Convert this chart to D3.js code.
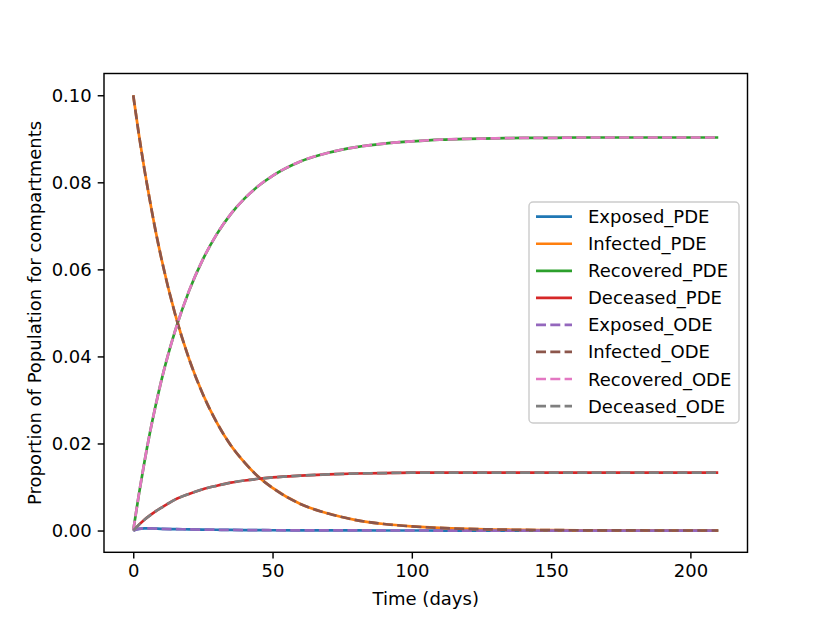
<!DOCTYPE html>
<html><head><meta charset="utf-8">
<script src="https://cdn.jsdelivr.net/npm/d3@7"></script>
<style>
body{margin:0;background:#fff;}
text{font-family:"DejaVu Sans",sans-serif;fill:#000;}
</style></head>
<body><svg id="c" width="830" height="622"></svg>
<script>
const days = [0,2,4,6,8,10,15,20,25,30,35,40,45,50,60,70,80,90,100,110,120,130,140,150,160,170,180,190,200,210];
const exposed = [0,0.0004,0.0005,0.0005,0.00045,0.0004,0.00033,0.00027,0.00022,0.00018,0.00014,0.00011,0.00009,0.00007,0.00004,0.00003,0.00002,0.00001,0.00001,0,0,0,0,0,0,0,0,0,0,0];
const infected = [0.1,0.0911,0.0830,0.0757,0.0689,0.0628,0.0498,0.0395,0.0313,0.0248,0.0196,0.0156,0.0123,0.0098,0.0061,0.0039,0.0024,0.0015,0.00096,0.0006,0.00038,0.00024,0.00015,0.00009,0.00006,0.00004,0.00002,0.00001,0.00001,0.00001];
const recovered = [0,0.0082,0.0157,0.0225,0.0286,0.0342,0.0458,0.0550,0.0623,0.0681,0.0727,0.0763,0.0792,0.0815,0.0848,0.0868,0.0881,0.0889,0.0894,0.0898,0.0900,0.0901,0.0902,0.0902,0.0903,0.0903,0.0903,0.0903,0.0903,0.0903];
const deceased = [0,0.0013,0.0025,0.0035,0.0044,0.0052,0.0071,0.0084,0.0095,0.0103,0.0110,0.0115,0.0119,0.0122,0.0126,0.0129,0.0131,0.0132,0.0133,0.0133,0.0133,0.0133,0.0133,0.0133,0.0133,0.0133,0.0133,0.0133,0.0133,0.0133];
const seriesNames = ["Exposed_PDE","Infected_PDE","Recovered_PDE","Deceased_PDE","Exposed_ODE","Infected_ODE","Recovered_ODE","Deceased_ODE"];
const seriesValues = [exposed,infected,recovered,deceased,exposed,infected,recovered,deceased];
const colors = ["#1f77b4","#ff7f0e","#2ca02c","#d62728","#9467bd","#8c564b","#e377c2","#7f7f7f"];
const xTicks = [0,50,100,150,200];
const yTicks = [0,0.02,0.04,0.06,0.08,0.10];

const svg = d3.select("#c");
const L=104, R=747.5, T=73.5, B=552.3;
const x = d3.scaleLinear().domain([-10.5,220.5]).range([L,R]);
const y = d3.scaleLinear().domain([-0.005,0.105]).range([B,T]);

const g = svg.append("g");
const clip = svg.append("clipPath").attr("id","cp").append("rect").attr("x",L).attr("y",T).attr("width",R-L).attr("height",B-T);

const line = d3.line().x(d=>x(d[0])).y(d=>y(d[1])).curve(d3.curveMonotoneX);
const plot = svg.append("g").attr("clip-path","url(#cp)");
seriesNames.forEach((n,i)=>{
  const pts = days.map((t,j)=>[t,seriesValues[i][j]]);
  plot.append("path").attr("d",line(pts)).attr("fill","none")
    .attr("stroke",colors[i]).attr("stroke-width",2.7)
    .attr("stroke-dasharray", i>=4 ? "10,4.3" : null);
});

// axes
const xa = svg.append("g").attr("transform",`translate(0,${B})`)
  .call(d3.axisBottom(x).tickValues(xTicks).tickFormat(d3.format("d")).tickSize(6.3).tickPadding(6));
const ya = svg.append("g").attr("transform",`translate(${L},0)`)
  .call(d3.axisLeft(y).tickValues(yTicks).tickFormat(d3.format(".2f")).tickSize(6.3).tickPadding(6));
[xa,ya].forEach(a=>{
  a.select(".domain").remove();
  a.selectAll("line").attr("stroke","#000").attr("stroke-width",1.44);
  a.selectAll("text").attr("font-size",18).attr("font-family","DejaVu Sans").attr("fill","#000");
});
svg.append("rect").attr("x",L).attr("y",T).attr("width",R-L).attr("height",B-T)
  .attr("fill","none").attr("stroke","#000").attr("stroke-width",1.44);

svg.append("text").attr("x",(L+R)/2).attr("y",605).attr("text-anchor","middle").attr("font-size",18).text("Time (days)");
svg.append("text").attr("transform",`translate(41,${(T+B)/2}) rotate(-90)`).attr("text-anchor","middle").attr("font-size",18).text("Proportion of Population for compartments");

// legend
const lg = svg.append("g");
lg.append("rect").attr("x",529).attr("y",202).attr("width",210).attr("height",221).attr("rx",4)
  .attr("fill","#fff").attr("fill-opacity",0.8).attr("stroke","#cccccc").attr("stroke-width",1.44);
seriesNames.forEach((n,i)=>{
  const yy = 216.7 + i*27.05;
  lg.append("line").attr("x1",536).attr("x2",572).attr("y1",yy).attr("y2",yy)
    .attr("stroke",colors[i]).attr("stroke-width",2.7).attr("stroke-dasharray", i>=4 ? "10,4.3" : null);
  lg.append("text").attr("x",588).attr("y",yy+6.5).attr("font-size",18).text(n);
});
</script></body></html>
